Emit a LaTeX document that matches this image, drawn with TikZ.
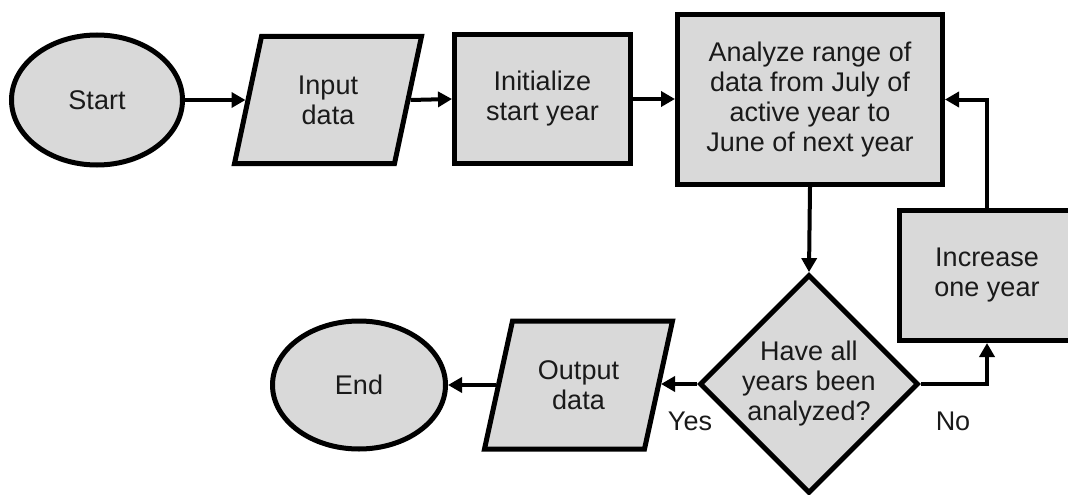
\documentclass[tikz,border=0pt]{standalone}
\usepackage{fontspec}
\setmainfont{Liberation Sans}
\usetikzlibrary{shapes.geometric,arrows.meta,calc,backgrounds}
\definecolor{boxgray}{HTML}{D9D9D9}
\definecolor{inkgray}{HTML}{1A1A1A}
% parallelogram behind an input/output node:
% #1 node name, #2 half side, #3 half height, #4 half slant offset
\newcommand{\iobody}[4]{%
  \draw[shapebox]
    ($(#1.center)+(-#2-#4,#3)$) -- ($(#1.center)+(#2-#4,#3)$) --
    ($(#1.center)+(#2+#4,-#3)$) -- ($(#1.center)+(-#2+#4,-#3)$) -- cycle;}
\begin{document}
\begin{tikzpicture}[x=1pt,y=-1pt,
  every node/.style={font=\fontsize{27}{30}\selectfont, text=inkgray, align=center},
  shapebox/.style={draw=black, line width=5pt, fill=boxgray, inner sep=0pt},
  terminal/.style={shapebox, ellipse},
  process/.style={shapebox, rectangle},
  io/.style={rectangle, line width=5pt, inner sep=0pt},
  decision/.style={shapebox, diamond},
  flow/.style={line width=4pt, -{Triangle[length=14pt,width=15pt]}},
  lbl/.style={inner sep=0pt}
]
\useasboundingbox (0,0) rectangle (1068,495);

% top row
\node[terminal, minimum width=171pt, minimum height=130pt] (start) at (97,100) {Start};
\node[io, minimum width=160pt, minimum height=127pt] (input) at (328,100) {Input\\data};
\node[process, minimum width=176pt, minimum height=128pt] (init) at (542.5,99) {Initialize\\start year};
\node[process, minimum width=265pt, minimum height=170pt] (analyze) at (810,99.5)
  {Analyze range of\\data from July of\\active year to\\June of next year};

% loop and exit
\node[decision, minimum width=215pt, minimum height=210pt] (check) at (809,384)
  {Have all\\years been\\analyzed?};
\node[process, minimum width=175pt, minimum height=130pt] (increase) at (987,275.5)
  {Increase\\one year};
\node[io, minimum width=160pt, minimum height=128pt] (output) at (578.5,385) {Output\\data};
\node[terminal, minimum width=173pt, minimum height=128pt] (end) at (359,385) {End};

% parallelogram outlines of the two data nodes
\begin{scope}[on background layer]
  \iobody{input}{80}{63.5}{13.5}
  \iobody{output}{80}{64}{14}
\end{scope}

% branch labels
\node[lbl] (yes) at (690,421) {Yes};
\node[lbl] (no) at (953,421) {No};

% connectors
\draw[flow] (start.east) -- (input.west);
\draw[flow] (input.east) -- (init.west);
\draw[flow] (init.east) -- (init.east -| analyze.west);
\draw[flow] (analyze.south) -- (check.north);
\draw[flow] (check.west) -- (check.west -| output.east);
\draw[flow] (output.west) -- (end.east);
\draw[flow] (check.east) -| (increase.south);
\draw[flow] (increase.north) |- (analyze.east);
\end{tikzpicture}
\end{document}
